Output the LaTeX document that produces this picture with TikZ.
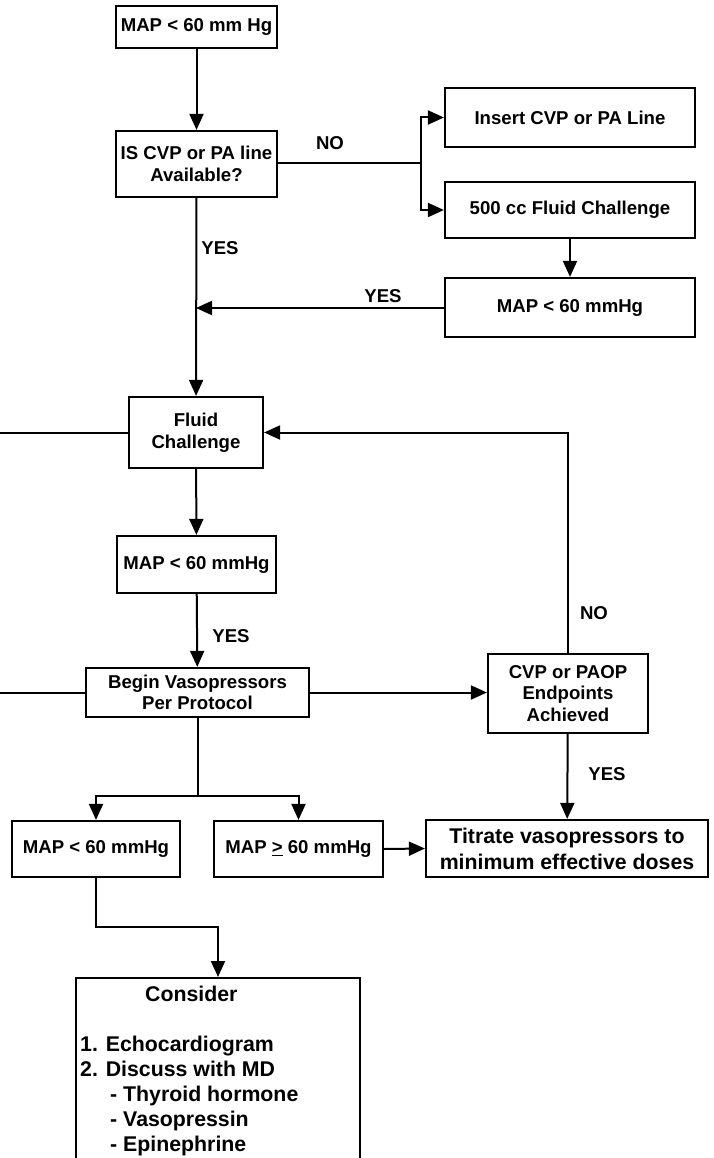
\documentclass[tikz,border=0pt]{standalone}
\usepackage{fontspec}
\setmainfont{Liberation Sans}
\usetikzlibrary{arrows.meta}
\begin{document}
\begin{tikzpicture}[x=1pt,y=-1pt,
  box/.style={draw, line width=2.2pt, inner sep=0pt, align=center,
    font=\fontsize{18.6}{21.5}\selectfont\bfseries},
  bigbox/.style={box, font=\fontsize{21.3}{26}\selectfont\bfseries},
  conn/.style={line width=2pt},
  arr/.style={conn, -{Triangle[length=16pt,width=14pt]}},
  lbl/.style={font=\fontsize{18.6}{21.5}\selectfont\bfseries, inner sep=0pt},
  ctext/.style={font=\fontsize{21.3}{26}\selectfont\bfseries, inner sep=0pt, anchor=base west}]
\useasboundingbox (0,0) rectangle (713,1158);
\clip (0,0) rectangle (713,1158);

% boxes
\node[box, minimum width=161pt, minimum height=42pt] (top) at (196.5,27) {MAP < 60 mm Hg};
\node[box, minimum width=161pt, minimum height=66pt] (avail) at (196.5,164) {IS CVP or PA line\\Available?};
\node[box, minimum width=250pt, minimum height=59pt] (insert) at (570,117.5) {Insert CVP or PA Line};
\node[box, minimum width=250pt, minimum height=56pt] (fluidfive) at (570,210) {500 cc Fluid Challenge};
\node[box, minimum width=250pt, minimum height=59pt] (mapR) at (570,307.5) {MAP < 60 mmHg};
\node[box, minimum width=134pt, minimum height=71pt] (fluid) at (196,432.5) {Fluid\\Challenge};
\node[box, minimum width=159pt, minimum height=57pt] (mapM) at (196.5,564.5) {MAP < 60 mmHg};
\node[box, minimum width=223pt, minimum height=49pt] (begin) at (197.5,692.5) {Begin Vasopressors\\Per Protocol};
\node[box, minimum width=160pt, minimum height=79pt] (cvp) at (568,693.5) {CVP or PAOP\\Endpoints\\Achieved};
\node[box, minimum width=168pt, minimum height=56pt] (mapL) at (96,849) {MAP < 60 mmHg};
\node[box, minimum width=169pt, minimum height=56pt] (mapGE) at (298.5,849) {MAP \underline{>} 60 mmHg};
\node[bigbox, minimum width=282pt, minimum height=57pt] (titrate) at (567,848.5) {Titrate vasopressors to\\minimum effective doses};
\node[box, minimum width=284pt, minimum height=230pt, anchor=north] (consider) at (218,977) {};

% consider text
\node[ctext] (c0) at (145,1001) {Consider};
\node[ctext] (c1) at (80,1051) {1. Echocardiogram};
\node[ctext] (c2) at (80,1076) {2. Discuss with MD};
\node[ctext] (c3) at (110,1101) {- Thyroid hormone};
\node[ctext] (c4) at (110,1126) {- Vasopressin};
\node[ctext] (c5) at (110,1151) {- Epinephrine};

% coordinates
\coordinate (j1) at (421,163);
\coordinate (j2) at (196,308);
\coordinate (j3) at (197.5,796);
\coordinate (j4) at (96,927);
\coordinate (L1) at (0,432.5);
\coordinate (L2) at (0,692.5);

% connectors
\draw[arr] (top) -- (avail);
\draw[conn] (avail.east |- j1) -- (j1);
\draw[arr] (j1) |- (insert.west);
\draw[arr] (j1) |- (fluidfive.west);
\draw[arr] (fluidfive) -- (mapR);
\draw[arr] (mapR.west |- j2) -- (j2);
\draw[arr] (avail) -- (fluid);
\draw[conn] (L1) -- (fluid.west);
\draw[arr] (cvp.north) |- (fluid.east);
\draw[arr] (fluid) -- (mapM);
\draw[arr] (mapM) -- (begin);
\draw[conn] (L2) -- (begin.west);
\draw[arr] (begin.east) -- (begin.east -| cvp.west);
\draw[conn] (begin.south) -- (j3);
\draw[arr] (j3) -| (mapL.north);
\draw[arr] (j3) -| (mapGE.north);
\draw[arr] (cvp) -- (titrate);
\draw[arr] (mapGE.east) -- (titrate.west);
\draw[arr] (mapL.south) -- (j4) -| (consider.north);

% labels
\node[lbl] (no1) at (330,143) {NO};
\node[lbl] (yes1) at (220,248) {YES};
\node[lbl] (yes2) at (383,296) {YES};
\node[lbl] (no2) at (594,613) {NO};
\node[lbl] (yes3) at (231,636) {YES};
\node[lbl] (yes4) at (607,774) {YES};
\end{tikzpicture}
\end{document}
